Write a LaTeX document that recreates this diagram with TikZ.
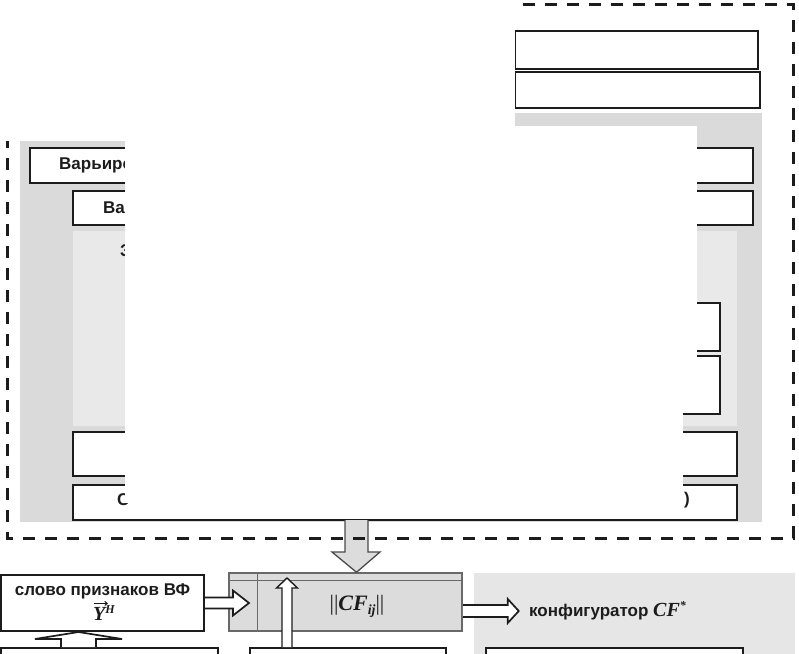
\documentclass[tikz,border=0pt]{standalone}
\usepackage{fontspec}
\setmainfont{Liberation Sans}
\newfontfamily\mathser{Liberation Serif}
\usetikzlibrary{calc,arrows.meta}
\definecolor{panelgray}{RGB}{218,218,218}
\definecolor{innergray}{RGB}{233,233,233}
\definecolor{cfgray}{RGB}{230,230,230}
\definecolor{matgray}{RGB}{220,220,220}
\definecolor{matline}{RGB}{105,105,105}
\definecolor{ink}{RGB}{28,28,28}
\newcommand{\rbox}[6]{\node[#2, minimum width={#5-#3}, minimum height={#6-#4}] (#1) at ({(#3+#5)/2},{(#4+#6)/2}) {};}
\newcommand{\subsm}[1]{\raisebox{-4pt}{\fontsize{14}{14}\selectfont #1}}
\newcommand{\supsm}[1]{\raisebox{7pt}{\fontsize{12}{12}\selectfont #1}}
\tikzset{
  boxst/.style={draw=ink, line width=2pt, fill=white, inner sep=0pt, rectangle},
  panelst/.style={fill=panelgray, draw=none, inner sep=0pt, rectangle},
  innerst/.style={fill=innergray, draw=none, inner sep=0pt, rectangle},
  cfst/.style={fill=cfgray, draw=none, inner sep=0pt, rectangle},
  matst/.style={draw=matline, line width=1.5pt, fill=matgray, inner sep=0pt, rectangle},
  lbl/.style={font=\bfseries\fontsize{17}{20}\selectfont, inner sep=0pt, text=ink},
  mathlbl/.style={font=\mathser\bfseries\itshape\fontsize{20}{22}\selectfont, inner sep=0pt, text=ink},
  harrow/.style={draw=ink, line width=1.7pt, fill=white, line join=miter},
  bigarrow/.style={draw=matline!70!black, line width=1.3pt, fill=matgray, line join=miter},
  framest/.style={draw=ink, line width=3pt, dash pattern=on 12pt off 10pt},
  coverst/.style={fill=white, draw=none}
}
\begin{document}
\begin{tikzpicture}[x=1pt,y=-1pt]
\clip (0,0) rectangle (799,653);
\fill[white] (0,0) rectangle (799,653);
% upper group
\rbox{boxA}{boxst}{515}{31}{758}{69}
\rbox{boxB}{boxst}{515}{72}{760}{108}
\rbox{outer}{panelst}{20}{113}{762}{522}
\rbox{boxC}{boxst}{30}{148}{753}{183}
\rbox{boxD}{boxst}{73}{191}{753}{225}
\rbox{inner}{innerst}{73}{231}{737}{426}
\rbox{boxE}{boxst}{200}{303}{720}{351}
\rbox{boxF}{boxst}{200}{356}{720}{414}
\rbox{boxG}{boxst}{73}{432}{737}{476}
\rbox{boxH}{boxst}{73}{485}{737}{520}
\node[lbl, anchor=west] (tC) at (59,165.5) {Варьиро};
\node[lbl, anchor=west] (tD) at (103,208) {Ва};
\node[lbl, anchor=west] (tI) at (120,251) {З};
\node[lbl, anchor=west] (tH) at (117,500) {С};
\node[lbl, anchor=west] (tH2) at (684,500) {)};
% big arrow down
\rbox{mat}{matst}{229}{573}{462}{631}
\coordinate (dTop) at (356.5,520);
\coordinate (dTip) at (dTop |- mat.north);
\draw[bigarrow] ($(dTop)+(-11.5,0)$) -- ($(dTop)+(-11.5,32)$) -- ($(dTop)+(-24.5,32)$) -- (dTip) -- ($(dTop)+(23.5,32)$) -- ($(dTop)+(11.5,32)$) -- ($(dTop)+(11.5,0)$);
% frame
\draw[framest] (7,4) rectangle (793,538);
% covers
\fill[coverst] (0,0) rectangle (515,141);
\fill[coverst] (125,126) rectangle (697,368);
\fill[coverst] (125,368) rectangle (683,503);
% lower group
\rbox{cfg}{cfst}{474}{573}{795}{680}
\rbox{slovo}{boxst}{1}{575}{204}{631}
\node[lbl] (slovoT) at (102.5,591) {слово признаков ВФ};
\node[mathlbl, anchor=base] (slovoY) at (104,620) {Y\supsm{H}};
\draw[ink, line width=1pt, -{Straight Barb[length=2.5pt,width=4pt]}] ($(slovoY.north west)+(1,-1.5)$) -- ($(slovoY.north west)+(15,-1.5)$);
\draw[matline, line width=1.5pt] ($(mat.north west)+(0,8)$) -- ($(mat.north east)+(0,8)$);
\draw[matline, line width=1.5pt] ($(mat.north west)+(29,0)$) -- ($(mat.south west)+(29,0)$);
\node[mathlbl, font=\mathser\bfseries\itshape\fontsize{22}{24}\selectfont] (matT) at (357,606) {{\upshape\mdseries||}CF\subsm{ij}{\upshape\mdseries||}};
\rbox{b1}{boxst}{1}{648}{218}{680}
\rbox{b2}{boxst}{250}{648}{446}{680}
\rbox{b3}{boxst}{486}{648}{743}{680}
% arrow slovo -> mat
\coordinate (a1s) at (slovo.east);
\draw[harrow] ($(a1s)+(0,-5.5)$) -- ++(28,0) -- ++(0,-7) -- ($(a1s)+(44,0)$) -- ($(a1s)+(28,12.5)$) -- ++(0,-7) -- ($(a1s)+(0,5.5)$);
% arrow mat -> cfg
\coordinate (a2s) at ($(mat.east)+(0,9)$);
\draw[harrow] ($(a2s)+(0,-6)$) -- ++(45,0) -- ++(0,-6) -- ($(a2s)+(56,0)$) -- ($(a2s)+(45,12)$) -- ++(0,-6) -- ($(a2s)+(0,6)$);
\node[lbl, anchor=west] (cfgT) at (529,611) {конфигуратор {\mathser\bfseries\itshape\fontsize{20}{20}\selectfont CF\supsm{*}}};
% arrow b1 -> slovo
\coordinate (a3s) at ($(b1.north west)+(78.5,0)$);
\draw[harrow] ($(a3s)+(-17.5,0)$) -- ++(0,-8) -- ($(a3s)+(-43.5,-8)$) -- ($(a3s |- slovo.south)$) -- ($(a3s)+(43.5,-8)$) -- ($(a3s)+(17.5,-8)$) -- ($(a3s)+(17.5,0)$);
% arrow b2 -> mat
\coordinate (a4s) at ($(b2.north west)+(38,0)$);
\draw[harrow, line width=1.4pt] ($(a4s)+(-5,0)$) -- ++(0,-59) -- ($(a4s)+(-10.5,-59)$) -- ($(a4s)+(0,-69)$) -- ($(a4s)+(10.5,-59)$) -- ($(a4s)+(5,-59)$) -- ($(a4s)+(5,0)$);
\end{tikzpicture}
\end{document}
